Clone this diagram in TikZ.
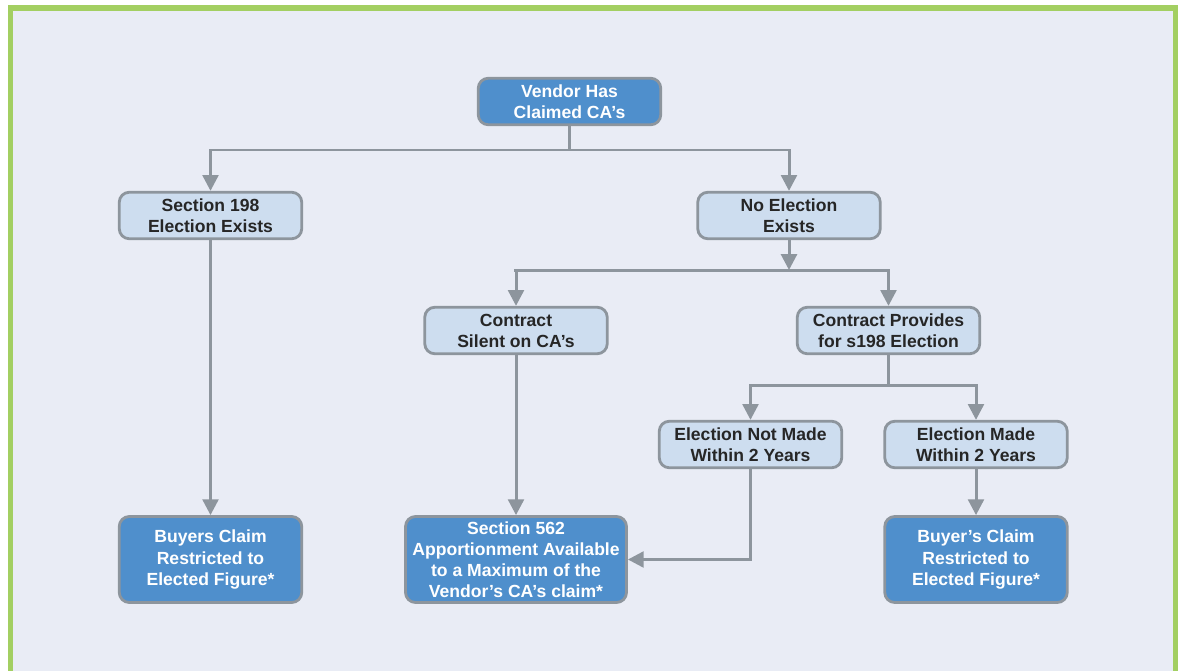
\documentclass[tikz,border=0pt]{standalone}
\usepackage{fontspec}
\setmainfont{Liberation Sans}
\usepackage{tikz}
\usetikzlibrary{arrows.meta}
\definecolor{pagebg}{HTML}{E9ECF5}
\definecolor{framegreen}{HTML}{A3CF62}
\definecolor{boxline}{HTML}{8D959D}
\definecolor{darkbox}{HTML}{4F8FCC}
\definecolor{lightbox}{HTML}{CDDDEF}
\tikzset{
    box/.style={draw=boxline, line width=1.6pt, rounded corners=0.2cm,
        minimum width=3.65cm, minimum height=0.93cm, align=center,
        font=\bfseries\fontsize{10}{12}\selectfont, inner sep=1pt},
    dark/.style={box, fill=darkbox, text=white},
    light/.style={box, fill=lightbox, text=black!85},
    conn/.style={draw=boxline, line width=1.7pt},
    arr/.style={conn, -{Triangle[length=9pt, width=9pt]}}
}

\begin{document}
\begin{tikzpicture}[x=0.02cm, y=-0.02cm]
        \useasboundingbox (0,0) rectangle (1183,670);
        \fill[white] (0,0) rectangle (1183,670);
        \draw[framegreen, line width=2.9pt, fill=pagebg] (10.5,8) rectangle (1175.5,690);

        % top level
        \node[dark] (vendor) at (569.5,101.5) {Vendor Has\\Claimed CA’s};
        \node[light] (sec198) at (210.5,215.5) {Section 198\\Election Exists};
        \node[light] (noelect) at (789,215.5) {No Election\\Exists};

        % second level
        \node[light] (silent) at (516,330.5) {Contract\\Silent on CA’s};
        \node[light] (provides) at (888.5,330.5) {Contract Provides\\for s198 Election};
        \node[light] (notmade) at (750.5,444.5) {Election Not Made\\Within 2 Years};
        \node[light] (made) at (976,444.5) {Election Made\\Within 2 Years};

        % outcomes
        \node[dark, minimum height=1.72cm] (buyers) at (210.5,559.5) {Buyers Claim\\Restricted to\\Elected Figure*};
        \node[dark, minimum height=1.72cm, minimum width=4.42cm] (sec562) at (516,559.5) {Section 562\\Apportionment Available\\to a Maximum of the\\Vendor’s CA’s claim*};
        \node[dark, minimum height=1.72cm] (buyer2) at (976,559.5) {Buyer’s Claim\\Restricted to\\Elected Figure*};

        \coordinate (split1) at (569.5,150);
        \coordinate (split2) at (789,270);
        \coordinate (split3) at (888.5,385);

        \draw[conn] (vendor) -- (split1);
        \draw[arr] (split1) -| (sec198);
        \draw[arr] (split1) -| (noelect);
        \draw[arr] (noelect) -- (split2);
        \draw[conn] (514,270) -- (886,270);
        \draw[arr] (split2) -| (silent);
        \draw[arr] (split2) -| (provides);
        \draw[conn] (provides) -- (split3);
        \draw[arr] (split3) -| (notmade);
        \draw[arr] (split3) -| (made);
        \draw[arr] (sec198) -- (buyers);
        \draw[arr] (silent) -- (sec562);
        \draw[arr] (made) -- (buyer2);
        \draw[arr] (notmade) |- (sec562);
\end{tikzpicture}
\end{document}
